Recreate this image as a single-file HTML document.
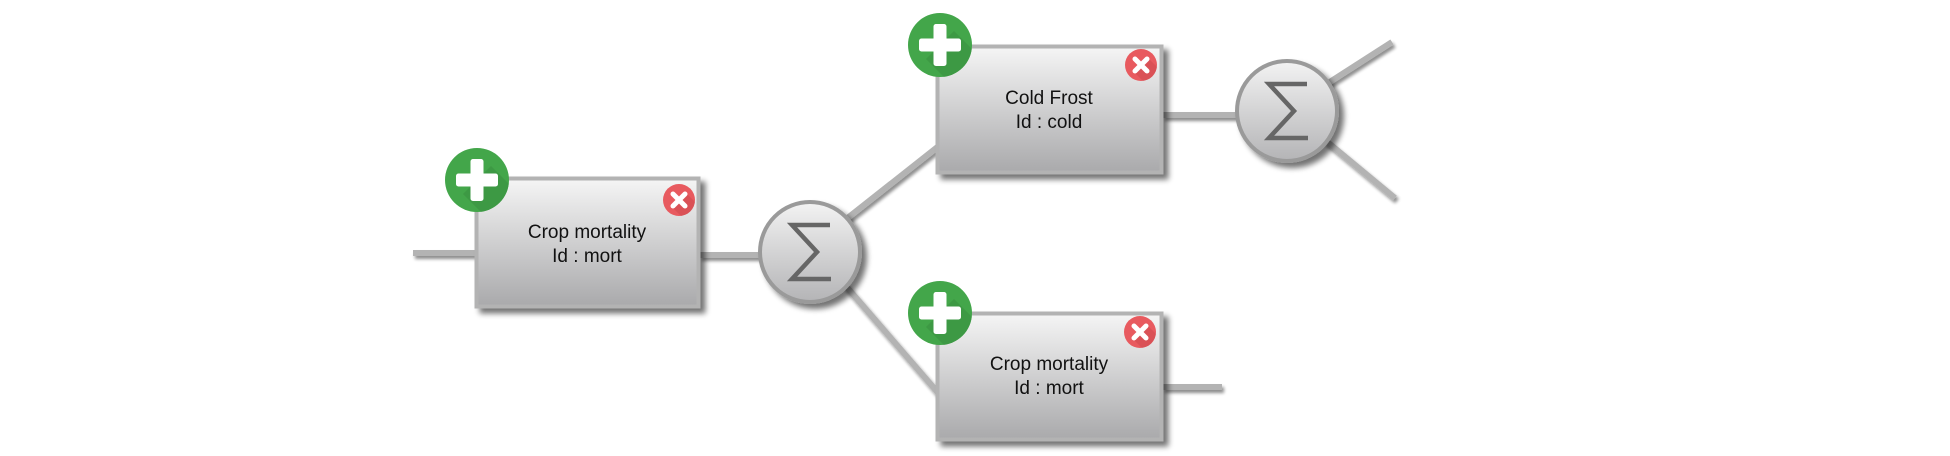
<!DOCTYPE html>
<html><head><meta charset="utf-8"><style>
html,body{margin:0;padding:0;background:#fff;width:1950px;height:456px;overflow:hidden}
svg{position:absolute;left:0;top:0}
text{font-family:"Liberation Sans",sans-serif}
</style></head><body>
<svg width="1950" height="456" viewBox="0 0 1950 456">
<defs>
<linearGradient id="bg" x1="0" y1="0" x2="0" y2="1"><stop offset="0" stop-color="#f5f5f5"/><stop offset="1" stop-color="#a9a9ab"/></linearGradient>
<linearGradient id="cg" x1="0" y1="0" x2="0" y2="1"><stop offset="0" stop-color="#f3f3f3"/><stop offset="1" stop-color="#b4b4b6"/></linearGradient>
<clipPath id="pc"><circle r="32"/></clipPath>
<clipPath id="xc"><circle r="16"/></clipPath>
<filter id="sh" x="-20%" y="-20%" width="150%" height="150%"><feGaussianBlur in="SourceAlpha" stdDeviation="3"/><feOffset dx="5" dy="5"/><feComponentTransfer><feFuncA type="linear" slope="0.55"/></feComponentTransfer><feMerge><feMergeNode/><feMergeNode in="SourceGraphic"/></feMerge></filter>
<filter id="ls" x="-10%" y="-50%" width="120%" height="200%"><feGaussianBlur in="SourceAlpha" stdDeviation="1.5"/><feOffset dx="2" dy="3"/><feComponentTransfer><feFuncA type="linear" slope="0.45"/></feComponentTransfer><feMerge><feMergeNode/><feMergeNode in="SourceGraphic"/></feMerge></filter>
<g id="plus"><circle r="32" fill="#43a64a"/><g clip-path="url(#pc)"><path d="M14,-14 L50,22 L22,50 L-14,14 Z" fill="#3a9441" opacity="0.7"/></g><rect x="-21" y="-6.5" width="42" height="13" rx="2.5" fill="#fff"/><rect x="-6.5" y="-21" width="13" height="42" rx="2.5" fill="#fff"/></g>
<g id="x"><circle r="16" fill="#e85a5f"/><g clip-path="url(#xc)"><path d="M7,-7 L30,16 L16,30 L-7,7 Z" fill="#d04b50" opacity="0.6"/></g><g stroke="#fff" stroke-width="5" stroke-linecap="round"><line x1="-6" y1="-6" x2="6" y2="6"/><line x1="-6" y1="6" x2="6" y2="-6"/></g></g>
<g id="sig"><circle r="50" fill="url(#cg)" stroke="#9a9a9a" stroke-width="4"/><path d="M20,-27 L-18,-27 L7,0 L-18,27 L21,27" fill="none" stroke="#666" stroke-width="4.5"/></g>
</defs>
<g stroke="#b3b3b3" stroke-width="6" filter="url(#ls)" fill="none">
<line x1="413" y1="253" x2="478" y2="253"/>
<line x1="700" y1="255" x2="762" y2="255"/>
<line x1="845" y1="220" x2="940" y2="145"/>
<line x1="845" y1="285" x2="940" y2="395"/>
<line x1="1163" y1="115" x2="1240" y2="115"/>
<line x1="1325" y1="85" x2="1392" y2="42"/>
<line x1="1325" y1="140" x2="1395" y2="198"/>
<line x1="1163" y1="387" x2="1222" y2="387"/>
</g>
<g filter="url(#sh)">
<rect x="476.5" y="178.5" width="222" height="128" fill="url(#bg)" stroke="#b3b3b3" stroke-width="4"/>
<rect x="937.5" y="46.5" width="224" height="126" fill="url(#bg)" stroke="#b3b3b3" stroke-width="4"/>
<rect x="937.5" y="313.5" width="224" height="126" fill="url(#bg)" stroke="#b3b3b3" stroke-width="4"/>
</g>
<g filter="url(#sh)"><use href="#sig" x="810" y="252"/><use href="#sig" x="1287" y="111"/></g>
<g font-size="19" fill="#111" text-anchor="middle">
<text x="587" y="238">Crop mortality</text><text x="587" y="262">Id : mort</text>
<text x="1049" y="104">Cold Frost</text><text x="1049" y="128">Id : cold</text>
<text x="1049" y="370">Crop mortality</text><text x="1049" y="394">Id : mort</text>
</g>
<use href="#plus" x="477" y="180"/><use href="#plus" x="940" y="45"/><use href="#plus" x="940" y="313"/>
<use href="#x" x="679" y="200"/><use href="#x" x="1141" y="65"/><use href="#x" x="1140" y="332"/>
</svg>
</body></html>
